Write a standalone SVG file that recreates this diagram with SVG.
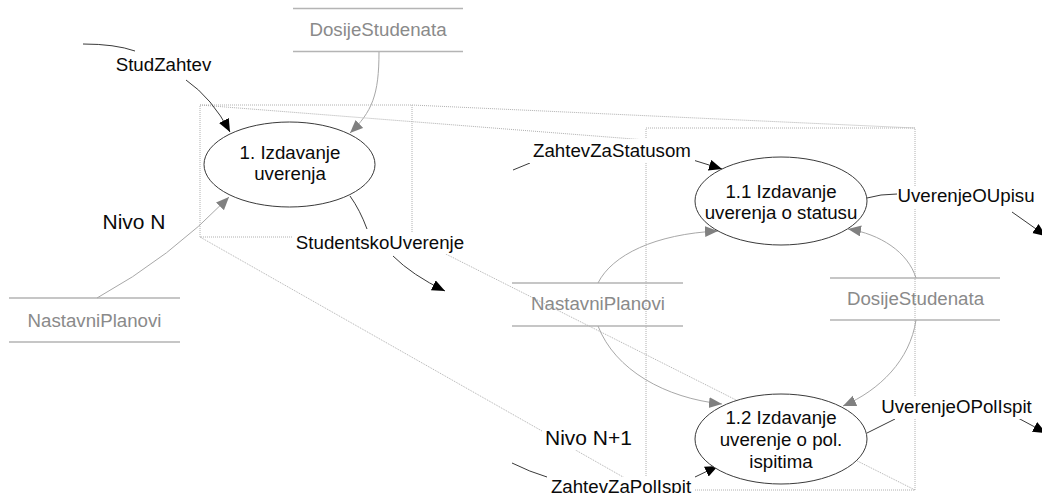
<svg xmlns="http://www.w3.org/2000/svg" width="1042" height="493" viewBox="0 0 1042 493">
<style>
text{font-family:"Liberation Sans",Arial,sans-serif;font-size:18.7px;text-anchor:middle;fill:#0a0a0a}
.store text{fill:#8a8a8a}
.sline{stroke:#b4b4b4;stroke-width:1.5;fill:none}
.frame{stroke:#b0b0b0;stroke-width:1;stroke-dasharray:1 1;fill:none}
.ext{stroke:#3a3a3a;stroke-width:1;fill:none}
.sf{stroke:#a8a8a8;stroke-width:1;fill:none}
.proc ellipse{fill:#fff;stroke:#3a3a3a;stroke-width:1}
.bg{fill:#fff}
.nivo{font-size:21px}
</style>
<defs>
<marker id="ab" markerUnits="userSpaceOnUse" markerWidth="14" markerHeight="12" refX="13" refY="5.5" orient="auto"><path d="M0,0 L13,5.5 L0,11 Z" fill="#000"/></marker>
<marker id="ag" markerUnits="userSpaceOnUse" markerWidth="14" markerHeight="12" refX="13" refY="5.5" orient="auto"><path d="M0,0 L13,5.5 L0,11 Z" fill="#808080"/></marker>
</defs>
<rect width="1042" height="493" fill="#fff"/>
<g id="frames">
<rect class="frame" x="200" y="105" width="212" height="132"/>
<rect class="frame" x="646" y="128" width="269" height="362"/>
<path class="frame" d="M412,105 L915,128 M200,105 L646,140 M200,237 L646,490 M412,237 L915,490"/>
</g>
<g id="store-dosije-top" class="store">
<path class="sline" d="M293,8.5 H463 M293,51.5 H463"/>
<text x="378" y="36">DosijeStudenata</text>
</g>
<g id="store-planovi-left" class="store">
<path class="sline" d="M9,298 H180 M9,342 H180"/>
<text x="94.5" y="327">NastavniPlanovi</text>
</g>
<g id="store-planovi-mid" class="store">
<path class="sline" d="M512,283 H683 M512,326 H683"/>
<text x="598" y="310">NastavniPlanovi</text>
</g>
<g id="store-dosije-mid" class="store">
<path class="sline" d="M830,278 H1000 M830,320 H1000"/>
<text x="915.5" y="305">DosijeStudenata</text>
</g>
<g id="connectors">
<path class="ext" d="M83,44 Q115,44 135,51"/>
<path class="ext" d="M186,80 Q212,98 230,132" marker-end="url(#ab)"/>
<path class="sf" d="M379,52 C379,95 372,112 350,133" marker-end="url(#ag)"/>
<path class="sf" d="M97,298 Q170,258 229,197" marker-end="url(#ag)"/>
<path class="ext" d="M350,196 Q360,210 367,229"/>
<path class="ext" d="M393,256 Q412,275 445,291" marker-end="url(#ab)"/>
<path class="ext" d="M513,170 L530,163"/>
<path class="ext" d="M693,160 L722,169" marker-end="url(#ab)"/>
<path class="ext" d="M867,198 Q880,194 897,194"/>
<path class="ext" d="M1012,212 L1046,236" marker-end="url(#ab)"/>
<path class="ext" d="M867,433 L895,419"/>
<path class="ext" d="M1018,418 L1046,433" marker-end="url(#ab)"/>
<path class="ext" d="M512,463 Q530,472 547,477"/>
<path class="ext" d="M695,477 L718,466" marker-end="url(#ab)"/>
<path class="sf" d="M598,283 C612,255 655,234 718,231" marker-end="url(#ag)"/>
<path class="sf" d="M598,326 C615,370 665,398 722,404" marker-end="url(#ag)"/>
<path class="sf" d="M916,278 C908,252 880,234 848,229" marker-end="url(#ag)"/>
<path class="sf" d="M916,320 C910,360 880,390 843,406" marker-end="url(#ag)"/>
</g>
<g id="proc-1" class="proc">
<ellipse cx="289.5" cy="164.5" rx="85.5" ry="42.5"/>
<text x="290" y="159">1. Izdavanje</text>
<text x="290" y="180">uverenja</text>
</g>
<g id="proc-1-1" class="proc">
<ellipse cx="781" cy="201" rx="86" ry="44"/>
<text x="781" y="198">1.1 Izdavanje</text>
<text x="781" y="219">uverenja o statusu</text>
</g>
<g id="proc-1-2" class="proc">
<ellipse cx="781" cy="439" rx="86" ry="45"/>
<text x="781" y="424">1.2 Izdavanje</text>
<text x="781" y="446">uverenje o pol.</text>
<text x="781" y="468">ispitima</text>
</g>
<g id="labels">
<text x="163.5" y="71">StudZahtev</text>
<rect class="bg" x="292" y="232" width="176" height="22"/>
<text x="380" y="249">StudentskoUverenje</text>
<rect class="bg" x="529" y="139" width="166" height="24"/>
<text x="612" y="157">ZahtevZaStatusom</text>
<rect class="bg" x="897" y="186" width="138" height="22"/>
<text x="966" y="202">UverenjeOUpisu</text>
<rect class="bg" x="879" y="397" width="155" height="22"/>
<text x="956.5" y="413">UverenjeOPolIspit</text>
<rect class="bg" x="547" y="477" width="148" height="16"/>
<text x="621" y="493">ZahtevZaPolIspit</text>
<text class="nivo" x="134" y="229">Nivo N</text>
<rect class="bg" x="542" y="424" width="94" height="26"/>
<text class="nivo" x="588.5" y="445">Nivo N+1</text>
</g>
</svg>
